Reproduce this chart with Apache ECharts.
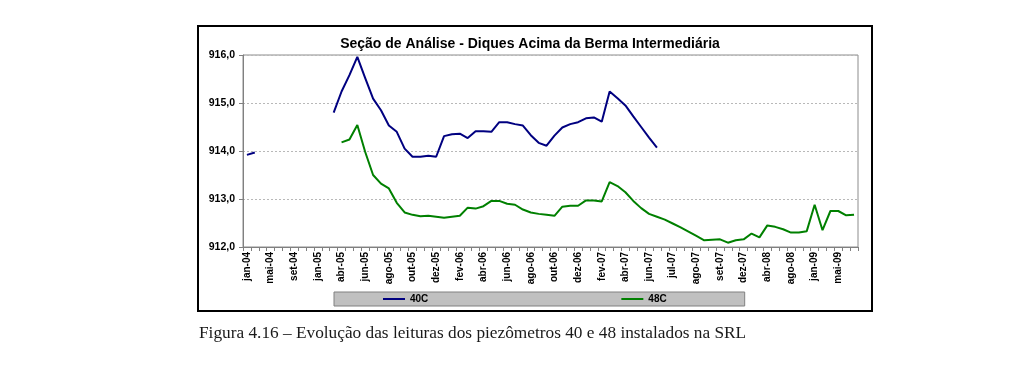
<!DOCTYPE html>
<html>
<head>
<meta charset="utf-8">
<script src="https://cdn.jsdelivr.net/npm/echarts@6/dist/echarts.min.js"></script>
<style>
html,body{margin:0;padding:0;background:#fff;}
#chart{width:1024px;height:384px;}
</style>
</head>
<body>
<div id="chart"></div>
<script>
const chartTitle = 'Seção de Análise - Diques Acima da Berma Intermediária';
const caption = 'Figura 4.16 – Evolução das leituras dos piezômetros 40 e 48 instalados na SRL';
const seriesNames = ['40C', '48C'];

const categories = [
  'jan-04','fev-04','mar-04','mai-04','jun-04','jul-04','set-04','out-04','nov-04','jan-05',
  'fev-05','mar-05','abr-05','mai-05','mai-05','jun-05','jul-05','jul-05','ago-05','set-05',
  'set-05','out-05','nov-05','nov-05','dez-05','jan-06','jan-06','fev-06','mar-06','mar-06',
  'abr-06','mai-06','mai-06','jun-06','jul-06','jul-06','ago-06','set-06','set-06','out-06',
  'nov-06','nov-06','dez-06','jan-07','jan-07','fev-07','mar-07','mar-07','abr-07','mai-07',
  'mai-07','jun-07','jun-07','jul-07','jul-07','jul-07','ago-07','ago-07','ago-07','set-07',
  'set-07','out-07','nov-07','dez-07','jan-08','fev-08','abr-08','mai-08','jun-08','ago-08',
  'out-08','nov-08','jan-09','fev-09','mar-09','mai-09','jun-09','jul-09'
];

const values40C = [
  913.92, 913.97, null, null, null, null, null, null, null, null,
  null, 914.80, 915.24, 915.58, 915.96, 915.52, 915.09, 914.85, 914.53, 914.40,
  914.05, 913.88, 913.88, 913.90, 913.88, 914.31, 914.35, 914.36, 914.27, 914.41,
  914.41, 914.40, 914.60, 914.60, 914.56, 914.53, 914.33, 914.17, 914.11, 914.32,
  914.49, 914.56, 914.60, 914.68, 914.70, 914.61, 915.24, 915.10, 914.95, 914.72,
  914.50, 914.28, 914.07, null, null, null, null, null, null, null,
  null, null, null, null, null, null, null, null, null, null,
  null, null, null, null, null, null, null, null
];

const values48C = [
  null, null, null, null, null, null, null, null, null, null,
  null, null, 914.18, 914.24, 914.54, 913.98, 913.50, 913.32, 913.22, 912.92,
  912.72, 912.67, 912.64, 912.65, 912.63, 912.61, 912.63, 912.65, 912.82, 912.80,
  912.85, 912.96, 912.96, 912.90, 912.88, 912.78, 912.72, 912.69, 912.67, 912.65,
  912.84, 912.86, 912.86, 912.97, 912.97, 912.95, 913.35, 913.27, 913.14, 912.96,
  912.81, 912.69, 912.63, 912.57, 912.49, 912.41, 912.32, 912.23, 912.14, 912.15,
  912.16, 912.09, 912.14, 912.16, 912.28, 912.20, 912.45, 912.42, 912.37, 912.30,
  912.30, 912.33, 912.88, 912.35, 912.75, 912.75, 912.66, 912.67
];

const yMin = 912, yMax = 916, yStep = 1;

const chart = echarts.init(document.getElementById('chart'), null, {renderer: 'canvas'});
const font = '"Liberation Sans", Arial, sans-serif';

chart.setOption({
  animation: false,
  backgroundColor: '#ffffff',
  graphic: [
    {type: 'rect', z: -10, shape: {x: 198, y: 26, width: 674, height: 285},
     style: {fill: '#ffffff', stroke: '#000000', lineWidth: 2}},
    {type: 'text', x: 530, y: 44, z: 10,
     style: {text: chartTitle, font: 'bold 14px ' + font, fill: '#000', align: 'center', verticalAlign: 'middle'}},
    {type: 'text', x: 199, y: 333, z: 10,
     style: {text: caption, font: '17.3px "Liberation Serif", "Times New Roman", serif', fill: '#1a1a1a', align: 'left', verticalAlign: 'middle'}}
  ],
  legend: {
    data: seriesNames,
    left: 334, top: 292,
    orient: 'horizontal',
    icon: 'rect',
    itemWidth: 22, itemHeight: 2,
    itemGap: 193,
    padding: [2, 78, 2, 49],
    backgroundColor: '#c0c0c0',
    borderColor: '#808080',
    borderWidth: 1,
    textStyle: {fontFamily: font, fontWeight: 'bold', fontSize: 10, color: '#000', lineHeight: 10}
  },
  grid: {left: 243, right: 166, top: 55, bottom: 137, show: true, borderColor: '#8c8c8c', borderWidth: 1, backgroundColor: '#ffffff'},
  xAxis: {
    type: 'category',
    data: categories,
    boundaryGap: true,
    axisLine: {lineStyle: {color: '#808080', width: 1}},
    axisTick: {show: true, interval: 0, length: 4, lineStyle: {color: '#808080'}},
    axisLabel: {interval: 2, rotate: 90, margin: 5, fontFamily: font, fontWeight: 'bold', fontSize: 10, color: '#000'},
    splitLine: {show: false}
  },
  yAxis: {
    type: 'value',
    min: yMin, max: yMax, interval: yStep,
    axisLine: {show: true, lineStyle: {color: '#808080', width: 1}},
    axisTick: {show: true, length: 4, lineStyle: {color: '#808080'}},
    axisLabel: {margin: 8, fontFamily: font, fontWeight: 'bold', fontSize: 10.5, color: '#000',
      formatter: v => v.toFixed(1).replace('.', ',')},
    splitLine: {show: true, lineStyle: {color: '#b8b8b8', type: [2, 2], width: 1}}
  },
  series: [
    {name: seriesNames[0], type: 'line', data: values40C, showSymbol: false, symbol: 'none',
     connectNulls: false, lineStyle: {color: '#000080', width: 2}, itemStyle: {color: '#000080'}},
    {name: seriesNames[1], type: 'line', data: values48C, showSymbol: false, symbol: 'none',
     connectNulls: false, lineStyle: {color: '#008000', width: 2}, itemStyle: {color: '#008000'}}
  ]
});
</script>
</body>
</html>
